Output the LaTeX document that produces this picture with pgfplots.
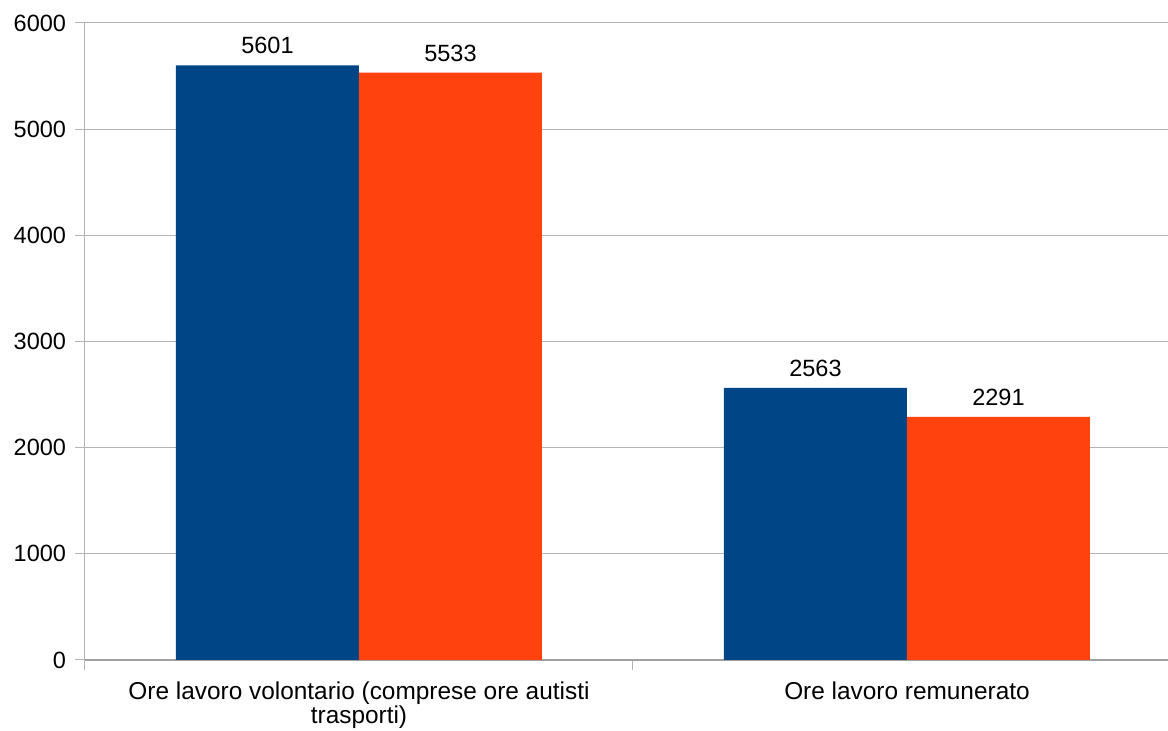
\documentclass[border=0pt]{standalone}
\usepackage{pgfplots}
\pgfplotsset{compat=1.18}
\usepackage{fontspec}
\setmainfont{Liberation Sans}
\definecolor{cblue}{HTML}{004586}
\definecolor{corange}{HTML}{FF420E}
\definecolor{gridc}{HTML}{B3B3B3}
\definecolor{axc}{HTML}{A0A0A0}
\begin{document}
\begin{tikzpicture}
\useasboundingbox (-85pt,-71pt) rectangle (1083pt,660pt);
\begin{axis}[
  at={(0pt,0pt)}, anchor=south west,
  scale only axis,
  width=1096pt, height=637pt,
  ybar=0pt, bar width=183pt,
  xmin=-0.5, xmax=1.5,
  ymin=0, ymax=6000,
  ytick={0,1000,2000,3000,4000,5000,6000},
  xtick={-0.5,0.5,1.5},
  xticklabels={{Ore lavoro volontario (comprese ore autisti\\trasporti)},{Ore lavoro remunerato}},
  x tick label as interval,
  xticklabel style={font=\fontsize{24.4}{22}\selectfont, align=center, yshift=-9pt},
  major tick length=9.5pt,
  tick align=outside,
  tick style={draw=gridc, line width=1pt},
  ymajorgrids,
  xmajorgrids=false,
  grid style={draw=gridc, line width=1pt},
  axis x line*=bottom,
  axis y line*=left,
  x axis line style={draw=axc, line width=1.5pt, -},
  y axis line style={draw=gridc, line width=1pt, -},
  /pgf/number format/assume math mode=true,
  /pgf/number format/1000 sep={},
  scaled y ticks=false,
  yticklabel style={font=\fontsize{23.5}{26}\selectfont, xshift=-6pt},
  nodes near coords,
  every node near coord/.append style={font=\fontsize{23.5}{26}\selectfont, text=black, anchor=south, inner sep=0pt, yshift=11pt, /pgf/number format/assume math mode=true, /pgf/number format/1000 sep={}},
  clip=false,
]
\addplot[fill=cblue, draw=none] coordinates {(0,5601) (1,2563)};
\addplot[fill=corange, draw=none] coordinates {(0,5533) (1,2291)};
\end{axis}
\end{tikzpicture}
\end{document}
